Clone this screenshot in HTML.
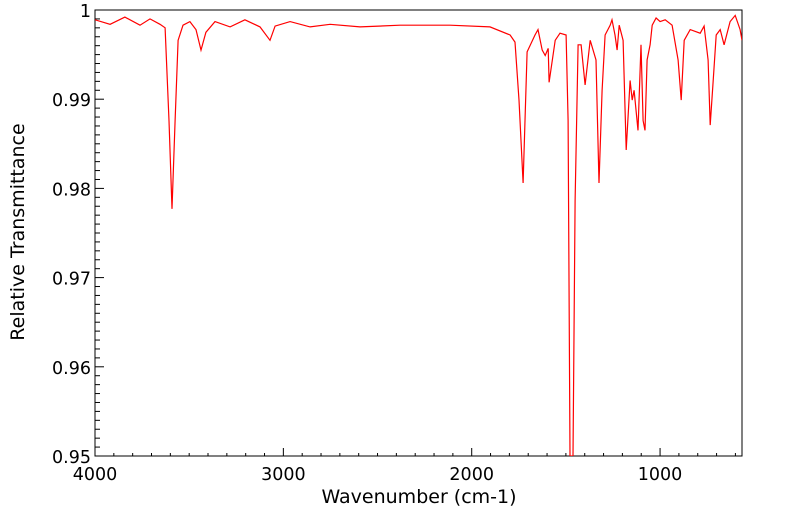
<!DOCTYPE html>
<html><head><meta charset="utf-8"><style>
body{margin:0;background:#fff;}
svg{display:block;font-family:"DejaVu Sans",sans-serif;}
</style></head><body>
<svg id="chart" width="799" height="516"></svg>
<script>
const wavenumbers=[4000,3920,3841,3761,3708,3655,3628,3607,3591,3575,3559,3533,3496,3464,3437,3411,3363,3283,3204,3124,3071,3044,2964,2858,2752,2593,2380,2115,1903,1796,1770,1749,1727,1706,1664,1648,1626,1610,1594,1589,1557,1531,1499,1488,1478,1462,1451,1435,1419,1398,1371,1340,1324,1308,1292,1265,1255,1239,1228,1217,1196,1180,1159,1148,1138,1117,1101,1090,1080,1069,1053,1042,1021,1000,973,936,904,888,872,840,787,766,745,734,718,702,681,660,628,601,575,565];
const transmittance=[.9989,.9984,.9992,.9983,.9990,.9984,.9980,.9876,.9777,.9876,.9966,.9983,.9987,.9978,.9955,.9975,.9987,.9981,.9989,.9981,.9966,.9982,.9987,.9981,.9984,.9981,.9983,.9983,.9981,.9972,.9964,.9899,.9806,.9953,.9972,.9978,.9955,.9949,.9957,.9919,.9966,.9974,.9972,.9876,.9500,.9500,.9786,.9961,.9961,.9916,.9966,.9944,.9806,.9910,.9972,.9983,.9989,.9972,.9955,.9983,.9966,.9843,.9921,.9899,.9910,.9865,.9961,.9876,.9865,.9944,.9961,.9983,.9991,.9987,.9989,.9983,.9944,.9899,.9966,.9978,.9974,.9982,.9944,.9871,.9921,.9972,.9978,.9961,.9987,.9994,.9978,.9966];
const xTicks=[4000,3000,2000,1000];
const yTicks=[0.95,0.96,0.97,0.98,0.99,1];
const yTickLabels=["0.95","0.96","0.97","0.98","0.99","1"];

const L=95,R=742,T=10,B=456,X0=4000,X1=565,Y0=0.95,Y1=1;
const sx=v=>L+(X0-v)/(X0-X1)*(R-L);
const sy=v=>B-(v-Y0)/(Y1-Y0)*(B-T);
const svg=document.getElementById('chart');
const NS='http://www.w3.org/2000/svg';
function mk(t,a){const e=document.createElementNS(NS,t);for(const k in a)e.setAttribute(k,a[k]);svg.appendChild(e);return e;}

const defs=document.createElementNS(NS,'defs');
defs.innerHTML='<clipPath id="cp"><rect x="'+L+'" y="'+T+'" width="'+(R-L)+'" height="'+(B-T)+'"/></clipPath>';
svg.appendChild(defs);

const frame=mk('rect',{x:L,y:T,width:R-L,height:B-T,fill:'none',stroke:'#000','stroke-width':1});



for(let i=0;i<=50;i++){
  const v=Y0+i*0.001,y=sy(v),major=i%10===0;
  const t=mk('line',{x1:L,x2:L+(major?9:5),y1:y,y2:y,stroke:'#000','stroke-width':1});
  
  
}
yTicks.forEach((v,i)=>{
  const tx=mk('text',{x:L-4,y:sy(v)+7,'text-anchor':'end','font-size':17.5,fill:'#000'});
  tx.textContent=yTickLabels[i];
  
  
});
for(let v=4000;v>=X1;v-=100){
  const x=sx(v),major=v%1000===0;
  const t=mk('line',{x1:x,x2:x,y1:B,y2:B-(major?8:3),stroke:'#000','stroke-width':1});
  
  
}
xTicks.forEach(v=>{
  const tx=mk('text',{x:sx(v),y:B+24,'text-anchor':'middle','font-size':17.5,fill:'#000'});
  tx.textContent=String(v);
  
  
});
const xl=mk('text',{x:419,y:503,'text-anchor':'middle','font-size':19,fill:'#000'});
xl.textContent='Wavenumber (cm-1)';


const yl=mk('text',{x:0,y:0,'text-anchor':'middle','font-size':19,fill:'#000',transform:'translate(24,232) rotate(-90)'});
yl.textContent='Relative Transmittance';



const d=wavenumbers.map((w,i)=>(i?'L':'M')+sx(w).toFixed(1)+','+sy(transmittance[i]).toFixed(1)).join('');
const p=mk('path',{d:d,fill:'none',stroke:'#ff0000','stroke-width':1.2,'clip-path':'url(#cp)'});


</script>
</body></html>
